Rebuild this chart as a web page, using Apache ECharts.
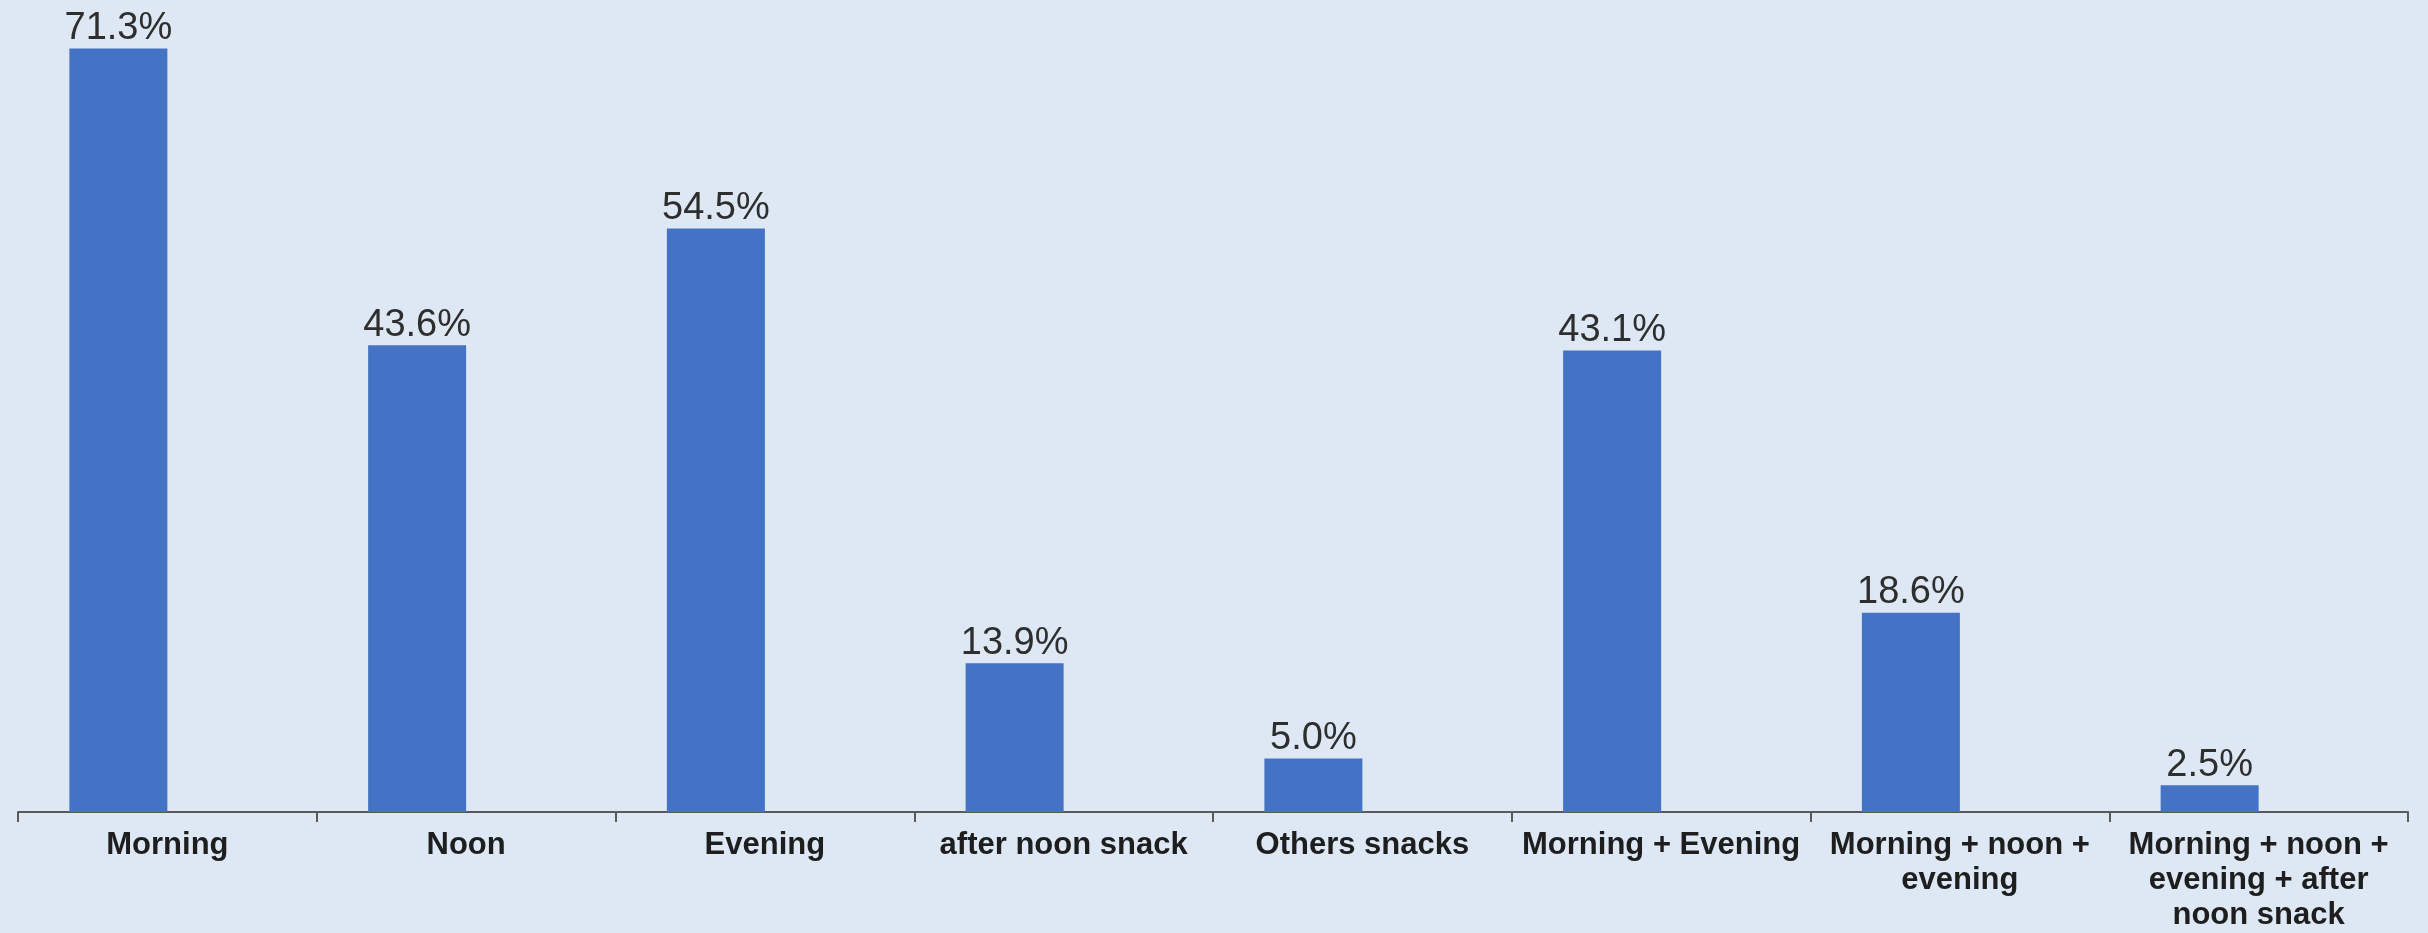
<!DOCTYPE html>
<html>
<head>
<meta charset="utf-8">
<title>Meal timing</title>
<script src="https://cdn.jsdelivr.net/npm/echarts@6/dist/echarts.min.js"></script>
<style>
  html, body { margin: 0; padding: 0; background: #dde8f4; }
  #chart { width: 2428px; height: 933px; }
</style>
</head>
<body>
<div id="chart"></div>
<script>
// Share of respondents per meal / meal combination (%)
const categories = [
  'Morning',
  'Noon',
  'Evening',
  'after noon snack',
  'Others snacks',
  'Morning + Evening',
  'Morning + noon +\nevening',
  'Morning + noon +\nevening + after\nnoon snack'
];
const shares = [71.3, 43.6, 54.5, 13.9, 5.0, 43.1, 18.6, 2.5];
// Second column slot left empty, so each bar sits left of its category centre
const emptySlot = [null, null, null, null, null, null, null, null];

const labelFont = 'Liberation Sans, Arial, sans-serif';

const chart = echarts.init(document.getElementById('chart'));
chart.setOption({
  backgroundColor: '#dde8f4',
  animation: false,
  grid: { left: 18, right: 20, top: 9, bottom: 121, containLabel: false },
  xAxis: {
    type: 'category',
    data: categories,
    axisLine: { show: true, lineStyle: { color: '#5a5a5a', width: 2 } },
    axisTick: { show: true, length: 10, lineStyle: { color: '#5a5a5a', width: 2 } },
    axisLabel: {
      interval: 0,
      margin: 16,
      color: '#1e1e1e',
      fontFamily: labelFont,
      fontWeight: 'bold',
      fontSize: 31,
      lineHeight: 35
    }
  },
  yAxis: {
    type: 'value',
    min: 0,
    max: 75,
    show: false,
    splitLine: { show: false }
  },
  series: [{
    name: 'Share',
    type: 'bar',
    data: shares,
    barWidth: 98,
    barGap: '0%',
    itemStyle: { color: '#4472c4' },
    label: {
      show: true,
      position: 'top',
      distance: 1,
      color: '#2e2e2e',
      fontFamily: labelFont,
      fontSize: 38,
      formatter: p => p.value.toFixed(1) + '%'
    }
  }, {
    name: 'blank',
    type: 'bar',
    data: emptySlot,
    barWidth: 98,
    barGap: '0%',
    silent: true
  }]
});
</script>
</body>
</html>
